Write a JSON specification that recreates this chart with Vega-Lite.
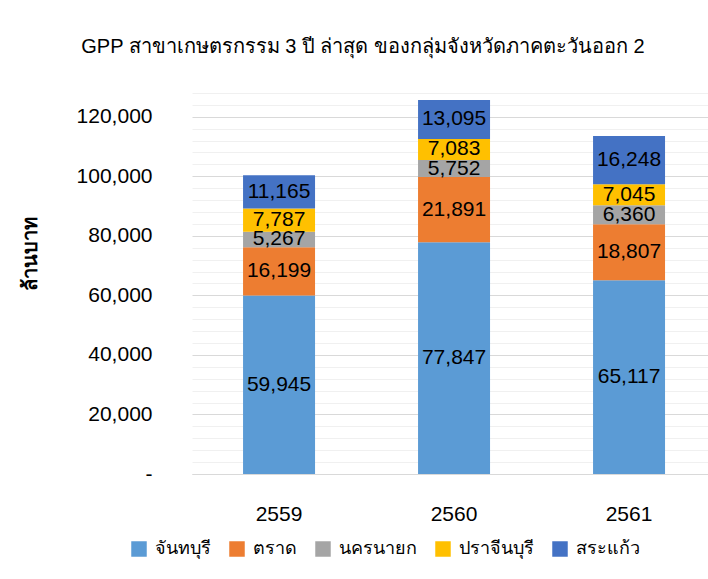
{
  "$schema": "https://vega.github.io/schema/vega-lite/v6.json",
  "width": 516,
  "height": 387,
  "autosize": {"type": "none"},
  "padding": {"left": 192, "top": 87, "right": 0, "bottom": 105},
  "background": "white",
  "config": {
    "font": "Liberation Sans",
    "view": {"stroke": null},
    "axis": {"labelColor": "#000", "titleColor": "#000", "labelFont": "Liberation Sans"}
  },
  "title": {
    "text": "GPP สาขาเกษตรกรรม 3 ปี ล่าสุด ของกลุ่มจังหวัดภาคตะวันออก 2",
    "fontSize": 20,
    "fontWeight": "normal",
    "color": "#000",
    "anchor": "middle",
    "dx": -87,
    "offset": 30
  },
  "data": {
    "values": [
      {"year": "2559", "province": "จันทบุรี", "value": 59945},
      {"year": "2559", "province": "ตราด", "value": 16199},
      {"year": "2559", "province": "นครนายก", "value": 5267},
      {"year": "2559", "province": "ปราจีนบุรี", "value": 7787},
      {"year": "2559", "province": "สระแก้ว", "value": 11165},
      {"year": "2560", "province": "จันทบุรี", "value": 77847},
      {"year": "2560", "province": "ตราด", "value": 21891},
      {"year": "2560", "province": "นครนายก", "value": 5752},
      {"year": "2560", "province": "ปราจีนบุรี", "value": 7083},
      {"year": "2560", "province": "สระแก้ว", "value": 13095},
      {"year": "2561", "province": "จันทบุรี", "value": 65117},
      {"year": "2561", "province": "ตราด", "value": 18807},
      {"year": "2561", "province": "นครนายก", "value": 6360},
      {"year": "2561", "province": "ปราจีนบุรี", "value": 7045},
      {"year": "2561", "province": "สระแก้ว", "value": 16248}
    ]
  },
  "encoding": {
    "x": {
      "field": "year",
      "type": "nominal",
      "scale": {"paddingInner": 0.5886, "paddingOuter": 0.2686, "align": 0.543},
      "axis": {
        "title": null,
        "labelAngle": 0,
        "ticks": false,
        "domainColor": "#d9d9d9",
        "domainWidth": 1,
        "labelFontSize": 21,
        "labelPadding": 29,
        "grid": false
      }
    },
    "order": {"field": "province", "sort": "ascending"}
  },
  "layer": [
    {
      "mark": {"type": "bar"},
      "encoding": {
        "y": {
          "field": "value",
          "type": "quantitative",
          "aggregate": "sum",
          "stack": "zero",
          "scale": {"domain": [0, 130000], "nice": false},
          "axis": {
            "title": "ล้านบาท",
            "titleFontSize": 20,
            "titleFontWeight": "bold",
            "titleX": -162,
            "titleY": 166,
            "titleAngle": 270,
            "titleAlign": "center",
            "titleBaseline": "middle",
            "values": [0, 20000, 40000, 60000, 80000, 100000, 120000],
            "labelExpr": "datum.value === 0 ? '-\u00a0\u00a0' : format(datum.value, ',')",
            "labelFontSize": 21,
            "labelPadding": 40,
            "ticks": false,
            "domain": false,
            "grid": true,
            "gridColor": "#d9d9d9",
            "gridWidth": 1
          }
        },
        "color": {
          "field": "province",
          "type": "nominal",
          "scale": {
            "domain": ["จันทบุรี", "ตราด", "นครนายก", "ปราจีนบุรี", "สระแก้ว"],
            "range": ["#5B9BD5", "#ED7D31", "#A5A5A5", "#FFC000", "#4472C4"]
          },
          "legend": {
            "title": null,
            "orient": "none",
            "direction": "horizontal",
            "legendX": -62,
            "legendY": 453,
            "symbolType": "square",
            "symbolSize": 240,
            "symbolStrokeWidth": 0,
            "labelFontSize": 18,
            "labelColor": "#000",
            "labelOffset": 7,
            "columnPadding": 17,
            "padding": 0
          }
        }
      }
    },
    {
      "mark": {"type": "text", "fontSize": 21, "color": "#000", "baseline": "middle", "align": "center"},
      "encoding": {
        "y": {
          "field": "value",
          "type": "quantitative",
          "aggregate": "sum",
          "stack": "zero",
          "bandPosition": 0.5,
          "scale": {"domain": [0, 130000], "nice": false},
          "axis": {
            "orient": "right",
            "title": null,
            "labels": false,
            "ticks": false,
            "domain": false,
            "grid": true,
            "gridColor": "#f0f0f0",
            "gridWidth": 1,
            "values": [4000, 8000, 12000, 16000, 24000, 28000, 32000, 36000, 44000, 48000, 52000, 56000, 64000, 68000, 72000, 76000, 84000, 88000, 92000, 96000, 104000, 108000, 112000, 116000, 124000, 128000]
          }
        },
        "detail": {"field": "province", "type": "nominal"},
        "text": {"field": "value", "type": "quantitative", "aggregate": "sum", "format": ","}
      }
    }
  ],
  "resolve": {"axis": {"y": "independent"}}
}
